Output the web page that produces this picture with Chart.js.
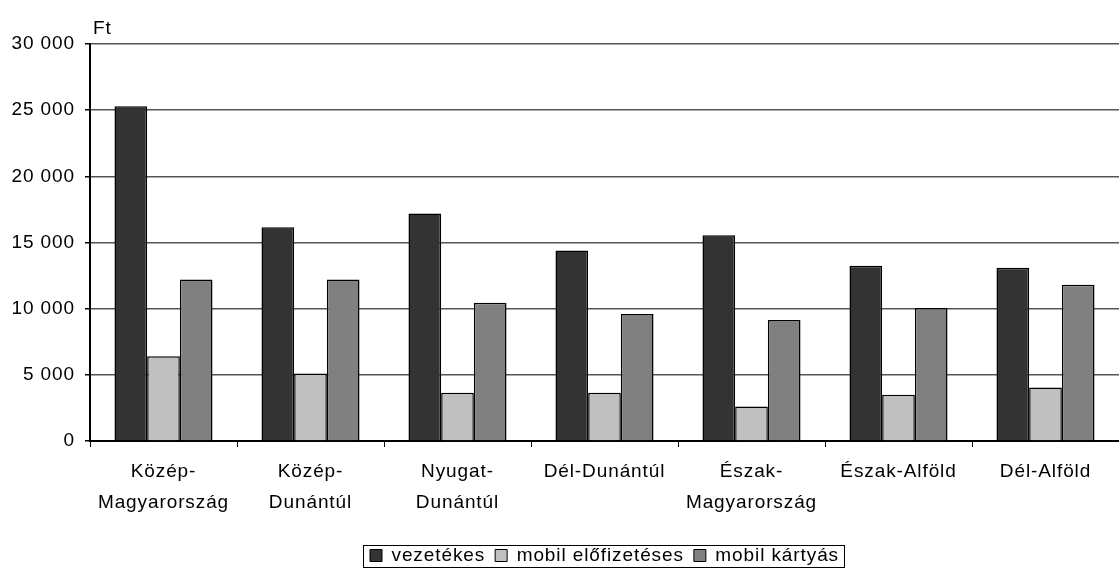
<!DOCTYPE html>
<html>
<head>
<meta charset="utf-8">
<script src="https://cdn.jsdelivr.net/npm/chart.js@4"></script>
<style>
  html, body { margin: 0; padding: 0; background: #fff; }
  #wrap { width: 1119px; height: 576px; }
</style>
</head>
<body>
<div id="wrap"><canvas id="regiok"></canvas></div>
<script>
// Adatok
var regiok = [
    ['Közép-', 'Magyarország'],
    ['Közép-', 'Dunántúl'],
    ['Nyugat-', 'Dunántúl'],
    'Dél-Dunántúl',
    ['Észak-', 'Magyarország'],
    'Észak-Alföld',
    'Dél-Alföld'
];
var vezetekes = [25300, 16150, 17200, 14400, 15550, 13250, 13100];
var mobilElofizeteses = [6400, 5100, 3650, 3650, 2600, 3500, 4050];
var mobilKartyas = [12200, 12200, 10450, 9600, 9150, 10050, 11800];
var sorozatNevek = ['vezetékes', 'mobil előfizetéses', 'mobil kártyás'];
var yTickek = [0, 5000, 10000, 15000, 20000, 25000, 30000];

var betu = 'Liberation Sans, Arial, sans-serif';

function ezres(v) {
    return String(v).replace(/\B(?=(\d{3})+(?!\d))/g, ' ');
}

// betuköz (az eredeti szöveg kicsit szélesebb)
var betukozPlugin = {
    id: 'betukoz',
    beforeUpdate: function (chart) { chart.ctx.letterSpacing = '0.9px'; },
    beforeDraw: function (chart) { chart.ctx.letterSpacing = '0.9px'; }
};

// "Ft" felirat és a jelmagyarázat kerete
var extraPlugin = {
    id: 'extra',
    afterDraw: function (chart) {
        var ctx = chart.ctx;
        var area = chart.chartArea;
        ctx.save();
        ctx.fillStyle = '#000';
        ctx.font = '19px ' + betu;
        ctx.textAlign = 'left';
        ctx.textBaseline = 'alphabetic';
        ctx.fillText('Ft', area.left + 3, area.top - 10);

        var lg = chart.legend;
        if (lg && lg.legendHitBoxes && lg.legendHitBoxes.length) {
            var boxes = lg.legendHitBoxes;
            var l = boxes[0].left, r = boxes[0].left + boxes[0].width;
            var t = boxes[0].top, h = boxes[0].height;
            boxes.forEach(function (b) {
                l = Math.min(l, b.left);
                r = Math.max(r, b.left + b.width);
            });
            var mid = t + h / 2;
            ctx.strokeStyle = '#000';
            ctx.lineWidth = 1;
            ctx.strokeRect(Math.round(l - 7) + 0.5, Math.round(mid - 11) + 0.5,
                Math.round(r - l + 12), 22);
        }
        ctx.restore();
    }
};

var config = {
    type: 'bar',
    data: {
        labels: regiok,
        datasets: [{
            label: sorozatNevek[0],
            data: vezetekes,
            backgroundColor: '#333333',
            borderColor: '#000',
            borderWidth: 1.5
        }, {
            label: sorozatNevek[1],
            data: mobilElofizeteses,
            backgroundColor: '#c0c0c0',
            borderColor: '#000',
            borderWidth: 1.5
        }, {
            label: sorozatNevek[2],
            data: mobilKartyas,
            backgroundColor: '#808080',
            borderColor: '#000',
            borderWidth: 1.5
        }]
    },
    options: {
        responsive: true,
        maintainAspectRatio: false,
        animation: false,
        devicePixelRatio: 1,
        layout: { padding: { top: 44, right: 0, bottom: 1, left: 0 } },
        datasets: {
            bar: { categoryPercentage: 0.667, barPercentage: 1 }
        },
        scales: {
            x: {
                offset: true,
                grid: {
                    offset: true,
                    drawOnChartArea: false,
                    drawTicks: true,
                    tickLength: 6,
                    color: '#000',
                    lineWidth: 1
                },
                border: { color: '#000', width: 2 },
                ticks: {
                    color: '#000',
                    padding: 10,
                    maxRotation: 0,
                    autoSkip: false,
                    font: { family: betu, size: 19, lineHeight: 1.6 }
                },
                afterFit: function (scale) { scale.height = 95; }
            },
            y: {
                min: 0,
                max: 30000,
                afterBuildTicks: function (scale) {
                    scale.ticks = yTickek.map(function (v) { return { value: v }; });
                },
                grid: {
                    color: '#555',
                    lineWidth: 1.5,
                    tickLength: 5,
                    tickColor: '#000'
                },
                border: { color: '#000', width: 2 },
                ticks: {
                    color: '#000',
                    padding: 10,
                    font: { family: betu, size: 19 },
                    callback: function (v) { return ezres(v); }
                },
                afterFit: function (scale) { scale.width = 90; }
            }
        },
        plugins: {
            legend: {
                position: 'bottom',
                fullSize: false,
                labels: {
                    color: '#000',
                    boxWidth: 12,
                    boxHeight: 12,
                    padding: 10,
                    font: { family: betu, size: 19 },
                    generateLabels: function (chart) {
                        return chart.data.datasets.map(function (ds, i) {
                            return {
                                text: ds.label,
                                fillStyle: ds.backgroundColor,
                                strokeStyle: '#000',
                                lineWidth: 1,
                                datasetIndex: i,
                                fontColor: '#000'
                            };
                        });
                    }
                }
            },
            tooltip: { enabled: false }
        }
    },
    plugins: [betukozPlugin, extraPlugin]
};

var ctx = document.getElementById('regiok').getContext('2d');
var grafikon = new Chart(ctx, config);
</script>
</body>
</html>
